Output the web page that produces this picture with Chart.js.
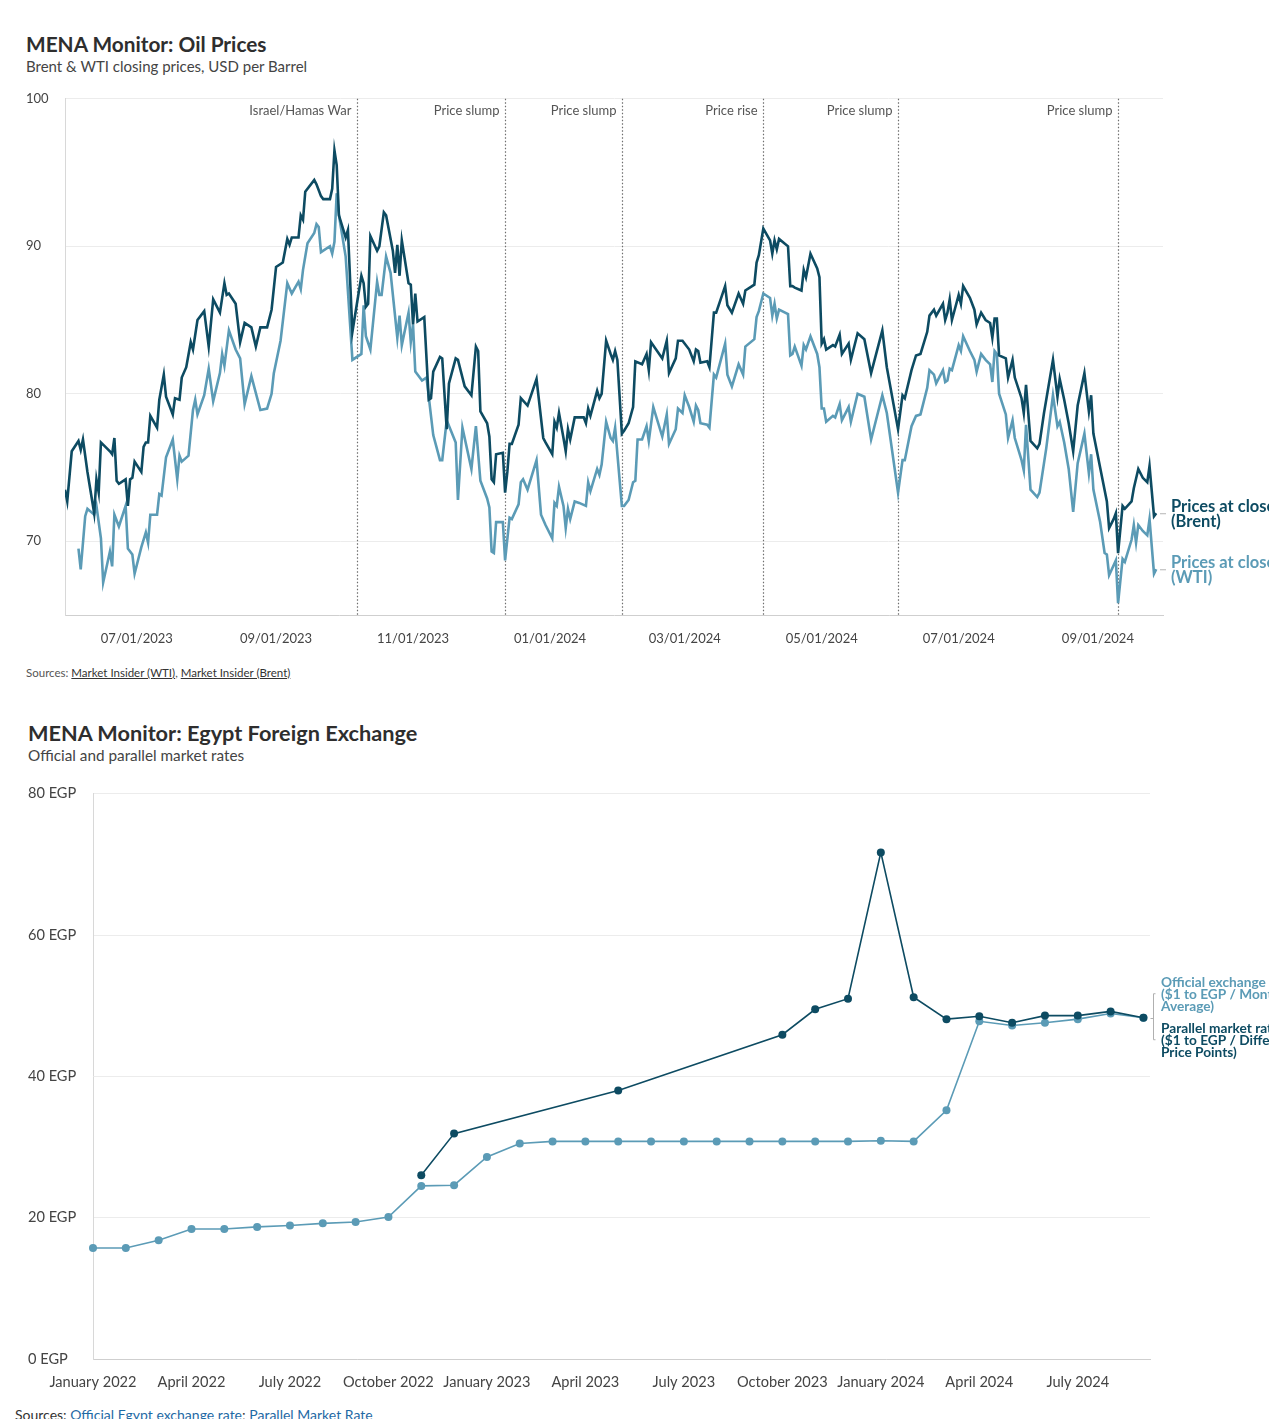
<!DOCTYPE html>
<html>
<head>
<meta charset="utf-8">
<script src="https://cdn.jsdelivr.net/npm/chart.js@4.4.1/dist/chart.umd.min.js"></script>
<style>
html,body{margin:0;padding:0;background:#fff;width:1269px;height:1419px;overflow:hidden;font-family:Lato,"Open Sans",sans-serif;}
.abs{position:absolute;white-space:nowrap;}
.title{font-weight:700;line-height:24px;color:#2e2e2e;}
.sub{line-height:18px;color:#444;}
.src{font-size:11.5px;line-height:14px;color:#555;}
.src a{color:#333;text-decoration:underline;}
.src2{font-size:14px;line-height:16px;color:#333;}
.src2 a{color:#1f6aa5;text-decoration:none;}
canvas{position:absolute;left:0;}
</style>
</head>
<body>
<div class="abs title" style="left:26px;top:32px;font-size:20.8px;">MENA Monitor: Oil Prices</div>
<div class="abs sub" style="left:26px;top:57px;font-size:15px;">Brent &amp; WTI closing prices, USD per Barrel</div>
<canvas id="oil" width="1269" height="572" style="top:83px;width:1269px;height:572px;"></canvas>
<div class="abs src" style="left:26px;top:666px;">Sources: <a>Market Insider (WTI)</a>, <a>Market Insider (Brent)</a></div>

<div class="abs title" style="left:28px;top:721px;font-size:21.7px;">MENA Monitor: Egypt Foreign Exchange</div>
<div class="abs sub" style="left:28px;top:746px;font-size:15.3px;">Official and parallel market rates</div>
<canvas id="fx" width="1269" height="622" style="top:777px;width:1269px;height:622px;"></canvas>
<div class="abs src2" style="left:15px;top:1407px;">Sources: <a>Official Egypt exchange rate</a>; <a>Parallel Market Rate</a></div>

<script>
// ---------- Oil chart data (x = days since 2023-07-01) ----------
const BASE_DATE = '2023-07-01';
const oilTickDates = ['2023-07-01','2023-09-01','2023-11-01','2024-01-01','2024-03-01','2024-05-01','2024-07-01','2024-09-01'];
const eventDates  = ['2023-10-07','2023-12-12','2024-02-02','2024-04-05','2024-06-04','2024-09-10'];
const eventLabels = ['Israel/Hamas War','Price slump','Price slump','Price rise','Price slump','Price slump'];
const oilRange = [-32, 457];
const oilYTicks = [70, 80, 90, 100];

const brentDays = [-32,-31,-29,-26,-25,-24,-22,-19,-18,-17,-16,-12,-11,-10,-9,-8,-5,-4,-3,-2,-1,2,3,4,5,6,9,10,12,13,16,17,19,20,22,24,25,27,30,32,34,37,39,40,41,44,46,48,51,53,55,58,60,62,65,67,68,69,72,73,74,75,79,80,82,83,86,87,88,89,90,92,93,94,96,100,101,102,103,104,107,108,110,111,114,115,116,117,118,121,122,123,124,125,128,130,131,132,135,136,138,139,142,143,146,149,151,152,153,156,157,158,159,160,163,164,165,166,167,170,171,174,178,181,182,185,186,187,188,190,191,192,193,195,197,199,200,201,202,205,206,207,209,211,212,213,214,216,217,219,221,222,225,227,228,229,234,236,237,240,241,243,246,248,249,250,251,254,255,257,258,262,263,265,268,270,271,275,276,277,279,282,283,284,285,286,290,291,292,293,296,297,298,300,303,304,305,306,307,310,311,313,314,317,318,321,324,327,332,334,339,341,342,345,347,349,352,353,355,356,359,360,361,362,363,366,367,368,371,373,374,376,378,380,381,382,383,384,387,388,390,391,394,395,396,398,401,402,404,405,408,410,411,413,415,417,419,422,424,425,426,429,432,433,435,436,437,439,440,443,444,446,448,450,451,453,454];
const brentClose = [73.5,72.7,76.1,76.8,76.2,76.9,74.7,71.9,74.2,73.3,76.7,76.1,75.9,77.0,74.1,73.9,74.2,72.4,74.2,74.3,75.4,74.7,76.4,76.7,76.7,78.5,77.7,79.6,81.3,79.8,78.6,79.7,79.6,81.1,81.8,83.5,83.0,85.0,85.6,83.2,86.4,85.5,87.5,86.7,86.8,86.1,83.5,84.8,84.5,83.2,84.5,84.5,85.7,88.6,88.9,90.5,90.1,90.6,90.6,92.1,91.8,93.7,94.5,94.2,93.4,93.2,93.2,93.9,96.5,95.5,92.1,91.1,90.6,91.1,84.2,88.0,87.5,85.9,86.1,90.7,89.7,90.0,92.3,92.1,89.7,88.2,90.1,88.0,90.4,87.5,87.4,84.7,86.8,84.9,85.2,79.6,79.7,81.5,82.5,82.4,77.6,80.7,82.4,82.3,80.5,79.9,83.2,82.9,78.8,78.0,77.1,74.2,74.0,75.9,76.0,73.3,74.7,76.6,76.6,77.9,79.7,79.2,81.0,77.0,76.7,75.9,78.1,77.7,78.7,77.0,76.1,77.6,76.9,78.4,78.4,78.4,78.0,79.0,78.5,80.2,79.7,80.0,83.6,82.7,82.3,82.9,82.3,77.3,77.5,78.0,79.1,82.2,82.0,82.7,81.6,83.5,82.4,83.6,81.4,82.4,83.6,83.6,83.0,82.2,83.0,82.9,82.1,82.2,81.8,85.5,85.5,87.3,86.0,85.5,86.8,86.1,87.0,87.4,88.9,89.4,91.2,90.4,89.5,90.4,89.8,90.5,90.0,87.3,87.3,87.2,87.0,88.4,87.9,89.5,88.5,87.9,83.4,83.7,83.0,83.3,83.2,84.0,82.7,83.4,82.3,84.1,83.7,81.4,84.3,81.8,77.6,79.9,79.7,81.6,82.6,82.7,84.2,85.3,85.7,85.3,86.1,85.0,85.5,86.4,85.0,86.7,86.1,87.3,86.5,85.7,84.7,85.5,85.0,84.8,83.8,85.1,85.1,82.6,82.4,81.1,82.3,81.1,79.7,78.7,80.6,76.8,76.3,76.6,78.7,79.6,82.3,79.8,81.0,79.6,78.0,76.1,79.2,81.4,78.8,79.9,77.3,75.0,72.7,70.9,71.5,71.9,69.2,72.4,72.2,72.7,73.6,74.9,74.3,74.0,75.1,71.7,71.9];

const wtiDays = [-26,-25,-23,-22,-19,-18,-16,-15,-12,-11,-10,-8,-5,-4,-2,-1,2,4,5,6,9,10,11,13,16,18,19,20,23,25,26,27,30,32,34,37,38,39,41,44,46,48,51,55,58,60,61,64,67,69,72,73,74,76,79,80,81,82,86,87,88,89,90,93,96,100,101,102,104,107,108,109,111,113,116,117,118,121,122,123,124,127,129,132,135,136,138,142,143,145,149,151,153,156,157,158,159,160,163,164,166,167,170,171,172,174,178,180,182,185,186,187,188,190,191,192,193,195,197,200,201,202,205,206,207,209,211,212,213,216,217,219,221,222,223,225,227,228,230,234,236,237,240,241,243,244,246,248,249,250,251,254,255,257,258,262,263,265,268,270,271,275,276,277,279,282,283,284,285,286,290,291,292,293,296,297,298,300,303,304,305,306,307,310,311,313,314,317,318,321,324,327,332,334,339,341,342,345,347,349,352,353,355,356,359,360,361,362,363,366,367,368,371,373,374,376,378,380,381,382,383,384,387,388,390,391,394,395,396,398,401,402,404,405,408,410,411,413,415,417,419,422,424,425,426,429,431,432,433,436,437,439,440,443,444,445,446,448,450,451,453,454];
const wtiClose = [69.5,68.1,71.7,72.2,71.8,72.4,70.2,67.2,69.3,68.3,71.8,71.0,72.4,69.5,69.1,67.8,69.6,70.6,69.9,71.8,71.8,73.2,73.1,75.7,76.9,74.2,75.8,75.4,75.8,78.9,79.6,78.6,79.9,81.7,79.5,81.4,82.7,81.9,84.3,83.0,82.4,79.3,81.2,78.9,79.0,80.0,81.4,83.6,87.5,86.8,87.6,87.1,88.4,90.2,90.9,91.5,91.3,89.6,90.0,89.5,90.3,93.6,92.1,89.3,82.3,82.7,86.0,83.9,83.0,87.6,86.7,86.7,89.3,88.2,83.8,85.3,83.3,85.5,83.5,84.7,81.5,80.9,81.1,77.2,75.5,75.5,78.2,76.7,72.8,77.7,74.9,77.8,74.1,72.9,72.3,69.3,69.2,71.3,71.3,68.7,71.6,71.5,72.5,74.0,74.2,73.5,75.5,71.8,71.1,70.2,72.6,72.4,73.7,72.4,70.9,72.2,71.5,72.7,72.6,72.4,74.0,73.4,74.9,74.5,75.2,78.1,77.0,76.8,77.7,72.4,72.4,72.8,74.0,74.1,76.9,76.9,77.8,76.8,79.1,77.1,78.6,76.6,77.6,79.0,78.7,79.9,79.1,78.1,79.2,78.9,78.0,77.9,77.7,81.3,81.1,83.4,81.3,80.5,82.0,81.3,83.2,83.7,85.2,85.6,86.8,86.5,85.3,86.1,85.1,85.7,85.4,82.6,82.7,83.2,81.9,83.3,83.0,83.9,82.7,81.8,79.0,79.0,78.1,78.5,78.4,79.3,78.2,79.1,78.1,80.0,79.8,76.9,79.9,78.7,73.3,75.5,75.5,77.8,78.5,78.6,80.4,81.6,81.3,80.7,81.6,80.8,80.9,81.7,81.6,83.3,82.9,83.9,82.9,82.3,81.5,82.7,82.3,82.0,80.8,82.9,82.7,80.0,78.6,77.0,78.2,77.0,75.5,74.8,77.9,73.5,73.0,73.3,75.3,76.3,79.9,77.8,78.1,76.7,74.9,72.0,75.3,77.3,74.6,75.9,73.5,71.3,69.2,69.1,67.7,68.7,65.8,68.8,68.6,70.1,71.1,69.9,71.1,70.7,70.4,71.5,67.8,68.1];

// ---------- Egypt FX data (monthly) ----------
const fxMonths = ['January 2022','February 2022','March 2022','April 2022','May 2022','June 2022','July 2022','August 2022','September 2022','October 2022','November 2022','December 2022',
  'January 2023','February 2023','March 2023','April 2023','May 2023','June 2023','July 2023','August 2023','September 2023','October 2023','November 2023','December 2023',
  'January 2024','February 2024','March 2024','April 2024','May 2024','June 2024','July 2024','August 2024','September 2024'];
const fxTickMonths = ['January 2022','April 2022','July 2022','October 2022','January 2023','April 2023','July 2023','October 2023','January 2024','April 2024','July 2024'];
const officialRate = [15.7,15.7,16.8,18.4,18.4,18.7,18.9,19.2,19.4,20.1,24.5,24.6,28.6,30.5,30.8,30.8,30.8,30.8,30.8,30.8,30.8,30.8,30.8,30.8,30.9,30.8,35.2,47.8,47.2,47.6,48.1,48.9,48.3];
const parallelRate = [null,null,null,null,null,null,null,null,null,null,26.0,31.9,null,null,null,null,38.0,null,null,null,null,45.9,49.5,51.0,71.7,51.2,48.1,48.5,47.6,48.6,48.6,49.2,48.3];
const fxYTicks = [0,20,40,60,80];

// ---------- styling ----------
const DARK = '#0d4b62';
const LIGHT = '#5b9bb6';
const FONT = 'Lato, "Open Sans", sans-serif';
Chart.defaults.font.family = FONT;

const dayOf = s => Math.round((Date.parse(s) - Date.parse(BASE_DATE)) / 86400000);
const fmtDate = s => { const p = s.split('-'); return p[1] + '/' + p[2] + '/' + p[0]; };
const oilTickDays = oilTickDates.map(dayOf);
const oilTickLabel = {}; oilTickDates.forEach(d => oilTickLabel[dayOf(d)] = fmtDate(d));

const oilPlugin = {
  id: 'oilExtras',
  beforeDatasetsDraw(chart) {
    const {ctx, chartArea, scales} = chart;
    ctx.save();
    ctx.strokeStyle = '#6e6e6e';
    ctx.lineWidth = 1.2;
    ctx.setLineDash([1.5, 2]);
    ctx.font = '13px ' + FONT;
    ctx.fillStyle = '#555';
    ctx.textAlign = 'right';
    ctx.textBaseline = 'middle';
    eventDates.forEach((d, i) => {
      const x = Math.round(scales.x.getPixelForValue(dayOf(d))) + 0.5;
      ctx.beginPath(); ctx.moveTo(x, chartArea.top); ctx.lineTo(x, chartArea.bottom); ctx.stroke();
      ctx.fillText(eventLabels[i], x - 6, chartArea.top + 12);
    });
    ctx.restore();
  },
  afterDatasetsDraw(chart) {
    const {ctx, chartArea} = chart;
    ctx.save();
    chart.data.datasets.forEach((ds, i) => {
      const meta = chart.getDatasetMeta(i);
      const last = meta.data[meta.data.length - 1];
      const y = last.y;
      ctx.strokeStyle = '#b5b5b5'; ctx.lineWidth = 1; ctx.setLineDash([]);
      ctx.beginPath(); ctx.moveTo(chartArea.right - 3, y + 0.5); ctx.lineTo(chartArea.right + 3, y + 0.5); ctx.stroke();
      ctx.fillStyle = ds.borderColor;
      ctx.font = 'bold 16.5px ' + FONT;
      ctx.textAlign = 'left'; ctx.textBaseline = 'middle';
      ctx.fillText('Prices at close', chartArea.right + 8, y - 7);
      ctx.fillText(ds.shortName, chartArea.right + 8, y + 8);
    });
    ctx.restore();
  }
};

new Chart(document.getElementById('oil'), {
  type: 'line',
  data: {
    datasets: [
      { label: 'Prices at close (Brent)', shortName: '(Brent)', data: brentDays.map((d, i) => ({x: d, y: brentClose[i]})),
        borderColor: DARK, borderWidth: 2.6, pointRadius: 0, tension: 0, fill: false },
      { label: 'Prices at close (WTI)', shortName: '(WTI)', data: wtiDays.map((d, i) => ({x: d, y: wtiClose[i]})),
        borderColor: LIGHT, borderWidth: 2.6, pointRadius: 0, tension: 0, fill: false }
    ]
  },
  options: {
    responsive: false, animation: false, events: [],
    layout: { padding: { left: 26, right: 106, top: 11, bottom: 0 } },
    plugins: { legend: { display: false }, tooltip: { enabled: false } },
    scales: {
      x: {
        type: 'linear', min: oilRange[0], max: oilRange[1],
        afterBuildTicks: s => { s.ticks = oilTickDays.map(v => ({ value: v })); },
        afterFit: s => { s.height = 40; },
        ticks: { callback: v => oilTickLabel[v] || '', color: '#444', font: { size: 13 }, padding: 16, maxRotation: 0, autoSkip: false },
        grid: { display: false, drawTicks: false },
        border: { display: true, color: '#cfcfcf', width: 1 }
      },
      y: {
        min: 65, max: 100,
        afterBuildTicks: s => { s.ticks = oilYTicks.map(v => ({ value: v })); },
        afterFit: s => { s.width = 39; },
        ticks: { crossAlign: 'far', color: '#444', font: { size: 13 }, padding: 8 },
        grid: { color: '#ececec', drawTicks: false },
        border: { display: true, color: '#d8d8d8', width: 1 }
      }
    }
  },
  plugins: [oilPlugin]
});

// ---------- FX chart ----------
const fxIdx = {}; fxMonths.forEach((m, i) => fxIdx[m] = i);
const fxTickIdx = fxTickMonths.map(m => fxIdx[m]);

const fxPlugin = {
  id: 'fxExtras',
  afterDatasetsDraw(chart) {
    const {ctx, chartArea, scales} = chart;
    const lastI = fxMonths.length - 1;
    const yMid = scales.y.getPixelForValue(officialRate[lastI]);
    const bx = Math.round(chartArea.right + 3) + 0.5;
    ctx.save();
    ctx.strokeStyle = '#b0b0b0'; ctx.lineWidth = 1;
    ctx.beginPath();
    ctx.moveTo(bx + 2, yMid - 24); ctx.lineTo(bx, yMid - 24); ctx.lineTo(bx, yMid + 22); ctx.lineTo(bx + 2, yMid + 22);
    ctx.moveTo(bx - 3, Math.round(yMid) + 0.5); ctx.lineTo(bx, Math.round(yMid) + 0.5);
    ctx.stroke();
    ctx.font = 'bold 13.7px ' + FONT;
    ctx.textAlign = 'left'; ctx.textBaseline = 'middle';
    const tx = chartArea.right + 11;
    ctx.fillStyle = LIGHT;
    ['Official exchange', '($1 to EGP / Monthly', 'Average)'].forEach((t, k) => ctx.fillText(t, tx, yMid - 35 + k * 12));
    ctx.fillStyle = DARK;
    ['Parallel market rate', '($1 to EGP / Different', 'Price Points)'].forEach((t, k) => ctx.fillText(t, tx, yMid + 11 + k * 12));
    ctx.restore();
  }
};

new Chart(document.getElementById('fx'), {
  type: 'line',
  data: {
    datasets: [
      { label: 'Parallel market rate ($1 to EGP / Different Price Points)', data: parallelRate.map((v, i) => ({x: i, y: v})),
        borderColor: DARK, backgroundColor: DARK, borderWidth: 1.6, pointRadius: 4, pointBorderWidth: 0,
        pointBackgroundColor: DARK, spanGaps: true, tension: 0, clip: false },
      { label: 'Official exchange ($1 to EGP / Monthly Average)', data: officialRate.map((v, i) => ({x: i, y: v})),
        borderColor: LIGHT, backgroundColor: LIGHT, borderWidth: 1.6, pointRadius: 4, pointBorderWidth: 0,
        pointBackgroundColor: LIGHT, tension: 0, clip: false }
    ]
  },
  options: {
    responsive: false, animation: false, events: [],
    layout: { padding: { left: 28, right: 119, top: 11, bottom: 0 } },
    plugins: { legend: { display: false }, tooltip: { enabled: false } },
    scales: {
      x: {
        type: 'linear', min: 0, max: 32.2,
        afterBuildTicks: s => { s.ticks = fxTickIdx.map(v => ({ value: v })); },
        afterFit: s => { s.height = 40; },
        ticks: { callback: v => fxMonths[v] || '', color: '#444', font: { size: 14.6 }, padding: 15, maxRotation: 0, autoSkip: false },
        grid: { display: false, drawTicks: false },
        border: { display: true, color: '#cfcfcf', width: 1 }
      },
      y: {
        min: 0, max: 80,
        afterBuildTicks: s => { s.ticks = fxYTicks.map(v => ({ value: v })); },
        afterFit: s => { s.width = 65; },
        ticks: { crossAlign: 'far', callback: v => v + ' EGP', color: '#444', font: { size: 14.6 }, padding: 8 },
        grid: { color: '#ececec', drawTicks: false },
        border: { display: true, color: '#d8d8d8', width: 1 }
      }
    }
  },
  plugins: [fxPlugin]
});
</script>
</body>
</html>
